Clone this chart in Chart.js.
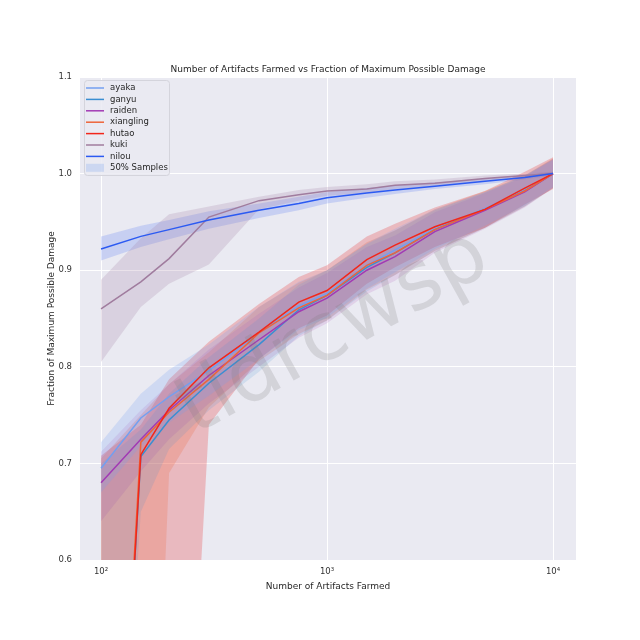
<!DOCTYPE html>
<html>
<head>
<meta charset="utf-8">
<script src="https://cdn.jsdelivr.net/npm/chart.js@4/dist/chart.umd.min.js"></script>
<style>
  html, body { margin: 0; padding: 0; background: #fff; }
  #wrap { width: 640px; height: 640px; }
</style>
</head>
<body>
<div id="wrap"><canvas id="dmgChart" width="640" height="640"></canvas></div>
<script>
// Number of artifacts farmed (x positions of every series)
const artifacts = [100, 150, 200, 300, 500, 750, 1000, 1500, 2000, 3000, 5000, 7500, 10000];

const names = ['ayaka', 'ganyu', 'raiden', 'xiangling', 'hutao', 'kuki', 'nilou'];

// mean fraction of max damage
const ayakaMean     = [0.695, 0.747, 0.769, 0.796, 0.835, 0.863, 0.876, 0.905, 0.921, 0.943, 0.964, 0.983, 1.000];
const ganyuMean     = [0.000, 0.707, 0.745, 0.783, 0.823, 0.859, 0.874, 0.903, 0.918, 0.942, 0.963, 0.982, 1.000];
const raidenMean    = [0.680, 0.725, 0.755, 0.791, 0.828, 0.857, 0.871, 0.900, 0.914, 0.940, 0.962, 0.981, 1.000];
const xianglingMean = [0.000, 0.722, 0.753, 0.787, 0.835, 0.861, 0.874, 0.905, 0.918, 0.942, 0.963, 0.982, 1.000];
const hutaoMean     = [0.000, 0.709, 0.757, 0.799, 0.836, 0.867, 0.879, 0.911, 0.926, 0.945, 0.963, 0.985, 1.000];
const kukiMean      = [0.860, 0.888, 0.912, 0.955, 0.972, 0.978, 0.982, 0.984, 0.988, 0.990, 0.995, 0.998, 1.000];
const nilouMean     = [0.922, 0.935, 0.942, 0.952, 0.962, 0.969, 0.975, 0.980, 0.983, 0.987, 0.992, 0.996, 1.000];

// 50% sample band, lower / upper edges
const ayakaLow      = [0.670, 0.718, 0.742, 0.770, 0.808, 0.838, 0.851, 0.881, 0.898, 0.922, 0.946, 0.967, 0.986];
const ayakaHigh     = [0.722, 0.772, 0.797, 0.823, 0.862, 0.888, 0.900, 0.928, 0.943, 0.963, 0.981, 0.998, 1.014];
const ganyuLow      = [0.000, 0.650, 0.715, 0.755, 0.795, 0.832, 0.848, 0.878, 0.895, 0.920, 0.944, 0.966, 0.985];
const ganyuHigh     = [0.700, 0.735, 0.772, 0.810, 0.850, 0.885, 0.900, 0.927, 0.941, 0.962, 0.981, 0.998, 1.015];
const raidenLow     = [0.640, 0.692, 0.725, 0.762, 0.800, 0.830, 0.845, 0.875, 0.889, 0.918, 0.943, 0.965, 0.985];
const raidenHigh    = [0.712, 0.755, 0.782, 0.818, 0.855, 0.882, 0.897, 0.924, 0.936, 0.960, 0.980, 0.997, 1.015];
const xianglingLow  = [0.000, 0.000, 0.690, 0.758, 0.806, 0.834, 0.848, 0.880, 0.895, 0.920, 0.944, 0.966, 0.985];
const xianglingHigh = [0.705, 0.750, 0.782, 0.815, 0.862, 0.887, 0.900, 0.929, 0.941, 0.963, 0.982, 0.998, 1.016];
const hutaoLow      = [0.000, 0.000, 0.000, 0.740, 0.808, 0.840, 0.853, 0.886, 0.903, 0.924, 0.944, 0.968, 0.984];
const hutaoHigh     = [0.708, 0.740, 0.787, 0.826, 0.865, 0.893, 0.905, 0.935, 0.948, 0.965, 0.982, 1.002, 1.017];
const kukiLow       = [0.805, 0.862, 0.886, 0.906, 0.963, 0.972, 0.977, 0.980, 0.984, 0.987, 0.992, 0.996, 0.998];
const kukiHigh      = [0.890, 0.933, 0.958, 0.966, 0.976, 0.983, 0.986, 0.989, 0.992, 0.994, 0.998, 1.000, 1.002];
const nilouLow      = [0.910, 0.924, 0.932, 0.943, 0.954, 0.962, 0.969, 0.975, 0.979, 0.984, 0.989, 0.994, 0.998];
const nilouHigh     = [0.935, 0.946, 0.952, 0.961, 0.969, 0.976, 0.981, 0.985, 0.988, 0.991, 0.995, 0.998, 1.002];

const xTickValues = [100, 1000, 10000];
const xTickLabels = ['10\u00B2', '10\u00B3', '10\u2074'];
const yTickValues = [0.6, 0.7, 0.8, 0.9, 1.0, 1.1];

const means = [ayakaMean, ganyuMean, raidenMean, xianglingMean, hutaoMean, kukiMean, nilouMean];
const lows  = [ayakaLow, ganyuLow, raidenLow, xianglingLow, hutaoLow, kukiLow, nilouLow];
const highs = [ayakaHigh, ganyuHigh, raidenHigh, xianglingHigh, hutaoHigh, kukiHigh, nilouHigh];

const lineColors = ['#739ff0', '#3a8ed2', '#a23ab4', '#ee6438', '#f2261a', '#a07c9e', '#2b5af2'];
const bandColors = [
    'rgba(115, 159, 240, 0.22)',
    'rgba(58, 142, 210, 0.15)',
    'rgba(162, 58, 180, 0.14)',
    'rgba(238, 100, 56, 0.22)',
    'rgba(232, 40, 40, 0.25)',
    'rgba(160, 124, 158, 0.22)',
    'rgba(43, 90, 242, 0.18)'
];
const FONT = "'DejaVu Sans', 'Liberation Sans', sans-serif";
const TITLE = 'Number of Artifacts Farmed vs Fraction of Maximum Possible Damage';

function toPoints(values) {
    return artifacts.map((x, i) => ({ x: x, y: values[i] }));
}

// bands first (lower edge + upper edge filled to it), then the mean lines
const datasets = [];
names.forEach((name, i) => {
    datasets.push({
        label: name + ' low',
        data: toPoints(lows[i]),
        borderWidth: 0,
        pointRadius: 0,
        fill: false,
        order: 100
    });
    datasets.push({
        label: name + ' high',
        data: toPoints(highs[i]),
        borderWidth: 0,
        pointRadius: 0,
        backgroundColor: bandColors[i],
        fill: '-1',
        order: 100
    });
});
names.forEach((name, i) => {
    datasets.push({
        label: name,
        data: toPoints(means[i]),
        borderColor: lineColors[i],
        borderWidth: 1.5,
        pointRadius: 0,
        fill: false,
        order: names.length - i
    });
});

// grey plot background like seaborn darkgrid, title centred over the plot
const plotBackground = {
    id: 'plotBackground',
    beforeDraw(chart) {
        const { ctx, chartArea } = chart;
        ctx.save();
        ctx.fillStyle = '#eaeaf2';
        ctx.fillRect(chartArea.left, chartArea.top, chartArea.right - chartArea.left, chartArea.bottom - chartArea.top);
        ctx.font = `9px ${FONT}`;
        ctx.fillStyle = '#262626';
        ctx.textAlign = 'center';
        ctx.textBaseline = 'middle';
        ctx.fillText(TITLE, (chartArea.left + chartArea.right) / 2, chartArea.top - 7);
        ctx.restore();
    }
};

// watermark sits over the bands
const watermark = {
    id: 'watermark',
    afterDatasetsDraw(chart) {
        const ctx = chart.ctx;
        ctx.save();
        ctx.translate(334, 334);
        ctx.rotate(-29 * Math.PI / 180);
        ctx.font = `81px ${FONT}`;
        ctx.fillStyle = 'rgba(120, 120, 120, 0.2)';
        ctx.textAlign = 'center';
        ctx.textBaseline = 'middle';
        ctx.fillText('tldrcwsp', 0, 0);
        ctx.restore();
    }
};

// legend box in the upper left of the plot
const boxLegend = {
    id: 'boxLegend',
    afterDraw(chart) {
        const ctx = chart.ctx;
        const left = 84, top = 80, width = 85, height = 95;
        ctx.save();
        ctx.fillStyle = 'rgba(234, 234, 242, 0.85)';
        ctx.strokeStyle = '#d4d4dc';
        ctx.lineWidth = 1;
        ctx.beginPath();
        ctx.roundRect(left + 0.5, top + 0.5, width, height, 3);
        ctx.fill();
        ctx.stroke();

        ctx.font = `8.5px ${FONT}`;
        ctx.textBaseline = 'middle';
        names.forEach((name, i) => {
            const y = 88 + i * 11.4;
            ctx.strokeStyle = lineColors[i];
            ctx.lineWidth = 1.5;
            ctx.beginPath();
            ctx.moveTo(86, y);
            ctx.lineTo(104, y);
            ctx.stroke();
            ctx.fillStyle = '#262626';
            ctx.fillText(name, 110, y);
        });
        const yS = 88 + names.length * 11.4;
        ctx.fillStyle = 'rgba(115, 159, 240, 0.25)';
        ctx.fillRect(86, yS - 4, 18, 8);
        ctx.fillStyle = '#262626';
        ctx.fillText('50% Samples', 110, yS);
        ctx.restore();
    }
};

new Chart(document.getElementById('dmgChart').getContext('2d'), {
    type: 'line',
    data: { datasets: datasets },
    options: {
        responsive: false,
        animation: false,
        layout: { padding: { left: 46, right: 64, bottom: 48, top: 77 } },
        plugins: {
            legend: { display: false },
            tooltip: { enabled: false },
            title: { display: false }
        },
        scales: {
            x: {
                type: 'logarithmic',
                min: 80.7,
                max: 12640,
                afterBuildTicks(scale) {
                    scale.ticks = xTickValues.map(v => ({ value: v }));
                },
                afterFit(scale) { scale.height = 32; },
                ticks: {
                    color: '#333',
                    font: { family: FONT, size: 8.5 },
                    padding: 7,
                    maxRotation: 0,
                    callback: (v) => xTickLabels[xTickValues.indexOf(v)]
                },
                grid: { color: '#ffffff', lineWidth: 1, drawTicks: false },
                border: { display: false },
                title: {
                    display: true,
                    text: 'Number of Artifacts Farmed',
                    color: '#262626',
                    font: { family: FONT, size: 9 },
                    padding: { top: 2, bottom: 0 }
                }
            },
            y: {
                min: 0.6,
                max: 1.1,
                afterBuildTicks(scale) {
                    scale.ticks = yTickValues.map(v => ({ value: v }));
                },
                afterFit(scale) { scale.width = 34; },
                ticks: {
                    color: '#333',
                    font: { family: FONT, size: 8.5 },
                    padding: 8,
                    callback: (v) => v.toFixed(1)
                },
                grid: { color: '#ffffff', lineWidth: 1, drawTicks: false },
                border: { display: false },
                title: {
                    display: true,
                    text: 'Fraction of Maximum Possible Damage',
                    color: '#262626',
                    font: { family: FONT, size: 9 },
                    padding: { top: 0, bottom: 4 }
                }
            }
        }
    },
    plugins: [plotBackground, watermark, boxLegend]
});
</script>
</body>
</html>
